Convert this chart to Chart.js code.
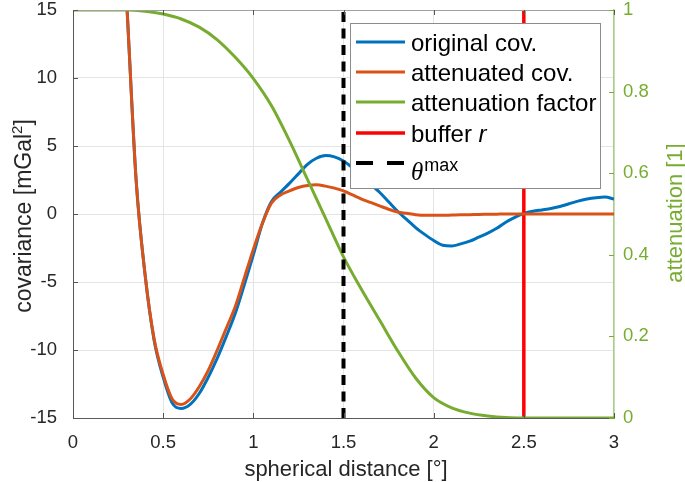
<!DOCTYPE html>
<html>
<head>
<meta charset="utf-8">
<script src="https://cdn.jsdelivr.net/npm/chart.js@4.4.1/dist/chart.umd.min.js"></script>
<style>
  html, body { margin: 0; padding: 0; background: #fff; }
  #wrap { width: 685px; height: 482px; }
</style>
</head>
<body>
<div id="wrap"><canvas id="chart" width="685" height="482"></canvas></div>
<script>
// spherical distance [deg] for the covariance curves
const distance = [
  0.25, 0.30, 0.35, 0.40, 0.45, 0.50, 0.55, 0.60, 0.65, 0.70,
  0.75, 0.80, 0.85, 0.90, 0.95, 1.00, 1.05, 1.10, 1.15, 1.20,
  1.25, 1.30, 1.35, 1.40, 1.45, 1.50, 1.55, 1.60, 1.65, 1.70,
  1.75, 1.80, 1.85, 1.90, 1.95, 2.00, 2.05, 2.10, 2.15, 2.20,
  2.25, 2.30, 2.35, 2.40, 2.45, 2.50, 2.55, 2.60, 2.65, 2.70,
  2.75, 2.80, 2.85, 2.90, 2.95, 3.00
];
const originalCov = [
  27, 15, 2.5, -4.5, -9.3, -12.0, -13.9, -14.3, -14.0, -13.2,
  -12.0, -10.6, -9.0, -7.3, -5.2, -3.0, -0.7, 0.9, 1.6, 2.25,
  2.95, 3.65, 4.1, 4.3, 4.2, 3.9, 3.4, 2.8, 2.2, 1.6,
  0.9, 0.2, -0.4, -1.0, -1.5, -1.95, -2.3, -2.35, -2.2, -2.0,
  -1.7, -1.4, -1.05, -0.6, -0.25, 0.05, 0.2, 0.3, 0.4, 0.55,
  0.75, 0.95, 1.1, 1.2, 1.25, 1.1
];
const attenuatedCov = [
  27, 15, 2.5, -4.5, -9.2, -11.8, -13.6, -14.0, -13.6, -12.7,
  -11.5, -10.0, -8.4, -6.8, -4.7, -2.6, -0.7, 0.8, 1.4, 1.7,
  1.95, 2.1, 2.15, 2.05, 1.9, 1.7, 1.4, 1.1, 0.85, 0.6,
  0.35, 0.15, 0.05, -0.05, -0.1, -0.1, -0.1, -0.08, -0.06, -0.05,
  -0.03, -0.02, -0.01, 0, 0, 0, 0, 0, 0, 0,
  0, 0, 0, 0, 0, 0
];
// attenuation factor (right axis)
const factorDistance = [
  0, 0.1, 0.2, 0.3, 0.4, 0.5, 0.6, 0.7, 0.8, 0.9, 1.0,
  1.1, 1.2, 1.3, 1.4, 1.5, 1.6, 1.7, 1.8, 1.9, 2.0,
  2.1, 2.2, 2.3, 2.4, 2.5, 2.6, 2.7, 2.8, 2.9, 3.0
];
const attenuationFactor = [
  1, 1, 1, 1, 0.997, 0.99, 0.978, 0.958, 0.927, 0.884, 0.832,
  0.766, 0.68, 0.585, 0.49, 0.395, 0.315, 0.24, 0.165, 0.098, 0.05,
  0.025, 0.012, 0.005, 0.001, 0, 0, 0, 0, 0, 0
];
const thetaMax = 1.5;
const bufferR = 2.5;

const xTicks = [0, 0.5, 1, 1.5, 2, 2.5, 3];
const covTicks = [-15, -10, -5, 0, 5, 10, 15];
const attTicks = [0, 0.2, 0.4, 0.6, 0.8, 1];

const FONT = "'Liberation Sans', Arial, sans-serif";
const GREEN = '#77AC30';

const toXY = (xs, ys) => xs.map((x, i) => ({ x: x, y: ys[i] }));

const axisDecor = {
  id: 'axisDecor',
  afterDraw(chart) {
    const { ctx, chartArea: a, scales } = chart;
    ctx.save();

    // top box line
    ctx.strokeStyle = '#a0a0a0';
    ctx.lineWidth = 1;
    ctx.beginPath();
    ctx.moveTo(a.left, a.top + 0.5);
    ctx.lineTo(a.right, a.top + 0.5);
    ctx.stroke();

    // inward tick marks
    ctx.strokeStyle = '#555';
    ctx.beginPath();
    xTicks.forEach(v => {
      const px = Math.round(scales.x.getPixelForValue(v)) + 0.5;
      ctx.moveTo(px, a.bottom); ctx.lineTo(px, a.bottom - 5);
      ctx.moveTo(px, a.top); ctx.lineTo(px, a.top + 5);
    });
    covTicks.forEach(v => {
      const py = Math.round(scales.y.getPixelForValue(v)) + 0.5;
      ctx.moveTo(a.left, py); ctx.lineTo(a.left + 5, py);
    });
    ctx.stroke();
    ctx.strokeStyle = GREEN;
    ctx.beginPath();
    attTicks.forEach(v => {
      const py = Math.round(scales.y2.getPixelForValue(v)) + 0.5;
      ctx.moveTo(a.right, py); ctx.lineTo(a.right - 5, py);
    });
    ctx.stroke();

    // axis titles
    ctx.fillStyle = '#262626';
    ctx.font = '22px ' + FONT;
    ctx.textAlign = 'center';
    ctx.textBaseline = 'alphabetic';
    ctx.fillText('spherical distance [°]', 346, 476);

    // left title with superscript 2
    ctx.save();
    ctx.translate(31, 216);
    ctx.rotate(-Math.PI / 2);
    const main = 'covariance [mGal';
    ctx.font = '23px ' + FONT;
    const wMain = ctx.measureText(main).width;
    ctx.font = '15px ' + FONT;
    const wSup = ctx.measureText('2').width;
    ctx.font = '23px ' + FONT;
    const wEnd = ctx.measureText(']').width;
    const x0 = -(wMain + wSup + wEnd) / 2;
    ctx.textAlign = 'left';
    ctx.fillText(main, x0, 0);
    ctx.font = '15px ' + FONT;
    ctx.fillText('2', x0 + wMain, -9);
    ctx.font = '23px ' + FONT;
    ctx.fillText(']', x0 + wMain + wSup, 0);
    ctx.restore();

    // right title
    ctx.save();
    ctx.translate(682, 213);
    ctx.rotate(-Math.PI / 2);
    ctx.fillStyle = GREEN;
    ctx.font = '22px ' + FONT;
    ctx.textAlign = 'center';
    ctx.fillText('attenuation [1]', 0, 0);
    ctx.restore();

    // legend box
    const bx = 350, by = 23, bw = 250, bh = 165;
    ctx.fillStyle = '#fff';
    ctx.fillRect(bx, by, bw, bh);
    ctx.strokeStyle = '#8c8c8c';
    ctx.lineWidth = 1;
    ctx.strokeRect(bx + 0.5, by + 0.5, bw, bh);

    const rows = [42, 72, 102, 133, 163];
    const items = chart.data.datasets.slice().sort((p, q) => p.legendIndex - q.legendIndex);
    items.forEach((ds, i) => {
      const y = rows[i];
      ctx.save();
      ctx.strokeStyle = ds.borderColor;
      ctx.lineWidth = ds.borderWidth;
      ctx.setLineDash(ds.borderDash && ds.borderDash.length ? [17, 14] : []);
      ctx.beginPath();
      ctx.moveTo(356, y);
      ctx.lineTo(405, y);
      ctx.stroke();
      ctx.restore();

      ctx.fillStyle = '#000';
      ctx.textAlign = 'left';
      ctx.textBaseline = 'alphabetic';
      const tx = 411, base = y + 9;
      if (ds.legendKind === 'theta') {
        ctx.font = 'italic 25px "Liberation Serif", "Times New Roman", serif';
        ctx.fillText('θ', tx, base + 8);
        const w = ctx.measureText('θ').width;
        ctx.font = '18px ' + FONT;
        ctx.fillText('max', tx + w + 1, base - 1);
      } else if (ds.legendKind === 'buffer') {
        ctx.font = '24px ' + FONT;
        ctx.fillText('buffer ', tx, base);
        const w = ctx.measureText('buffer ').width;
        ctx.font = 'italic 24px ' + FONT;
        ctx.fillText('r', tx + w, base);
      } else {
        ctx.font = '24px ' + FONT;
        ctx.fillText(ds.label, tx, base);
      }
    });

    ctx.restore();
  }
};

// strip the automatic label overflow padding so the plot box sits where the original one does
const noPadY = w => s => { s.width = w; s.paddingTop = 0; s.paddingBottom = 0; };

new Chart(document.getElementById('chart'), {
  type: 'line',
  data: {
    datasets: [
      {
        label: 'original cov.',
        legendIndex: 0,
        data: toXY(distance, originalCov),
        yAxisID: 'y',
        borderColor: '#0072BD',
        borderWidth: 3,
        cubicInterpolationMode: 'monotone',
        order: 4
      },
      {
        label: 'attenuated cov.',
        legendIndex: 1,
        data: toXY(distance, attenuatedCov),
        yAxisID: 'y',
        borderColor: '#D95319',
        borderWidth: 3,
        cubicInterpolationMode: 'monotone',
        order: 2
      },
      {
        label: 'attenuation factor',
        legendIndex: 2,
        data: toXY(factorDistance, attenuationFactor),
        yAxisID: 'y2',
        borderColor: GREEN,
        borderWidth: 3,
        cubicInterpolationMode: 'monotone',
        order: 1
      },
      {
        label: 'buffer r',
        legendKind: 'buffer',
        legendIndex: 3,
        data: [{ x: bufferR, y: -15 }, { x: bufferR, y: 15 }],
        yAxisID: 'y',
        borderColor: '#FF0000',
        borderWidth: 3.5,
        tension: 0,
        order: 3
      },
      {
        label: 'theta max',
        legendKind: 'theta',
        legendIndex: 4,
        data: [{ x: thetaMax, y: -15 }, { x: thetaMax, y: 15 }],
        yAxisID: 'y',
        borderColor: '#000000',
        borderWidth: 4,
        borderDash: [10, 6.5],
        tension: 0,
        order: 0
      }
    ]
  },
  options: {
    responsive: false,
    animation: false,
    events: [],
    layout: { padding: { top: 10, left: 0, right: 0, bottom: 0 } },
    elements: { point: { radius: 0 } },
    plugins: {
      legend: { display: false },
      tooltip: { enabled: false }
    },
    scales: {
      x: {
        type: 'linear',
        position: 'bottom',
        min: 0,
        max: 3,
        afterBuildTicks: s => { s.ticks = xTicks.map(v => ({ value: v })); },
        afterFit: s => { s.height = 64; s.paddingLeft = 0; s.paddingRight = 0; },
        ticks: {
          color: '#262626',
          font: { family: FONT, size: 18.5 },
          padding: 14,
          maxRotation: 0,
          callback: v => String(v)
        },
        grid: { color: '#e4e4e4', drawTicks: false },
        border: { color: '#5a5a5a', width: 1 }
      },
      y: {
        type: 'linear',
        position: 'left',
        min: -15,
        max: 15,
        afterBuildTicks: s => { s.ticks = covTicks.map(v => ({ value: v })); },
        afterFit: noPadY(73),
        ticks: {
          color: '#262626',
          font: { family: FONT, size: 18.5 },
          padding: 16,
          callback: v => String(v)
        },
        grid: { color: '#e4e4e4', drawTicks: false },
        border: { color: '#5a5a5a', width: 1 }
      },
      y2: {
        type: 'linear',
        position: 'right',
        min: 0,
        max: 1,
        afterBuildTicks: s => { s.ticks = attTicks.map(v => ({ value: v })); },
        afterFit: noPadY(71),
        ticks: {
          color: GREEN,
          font: { family: FONT, size: 18.5 },
          padding: 9,
          callback: v => String(v)
        },
        grid: { drawOnChartArea: false, drawTicks: false },
        border: { color: '#a9cf85', width: 1.5 }
      }
    }
  },
  plugins: [axisDecor]
});
</script>
</body>
</html>
